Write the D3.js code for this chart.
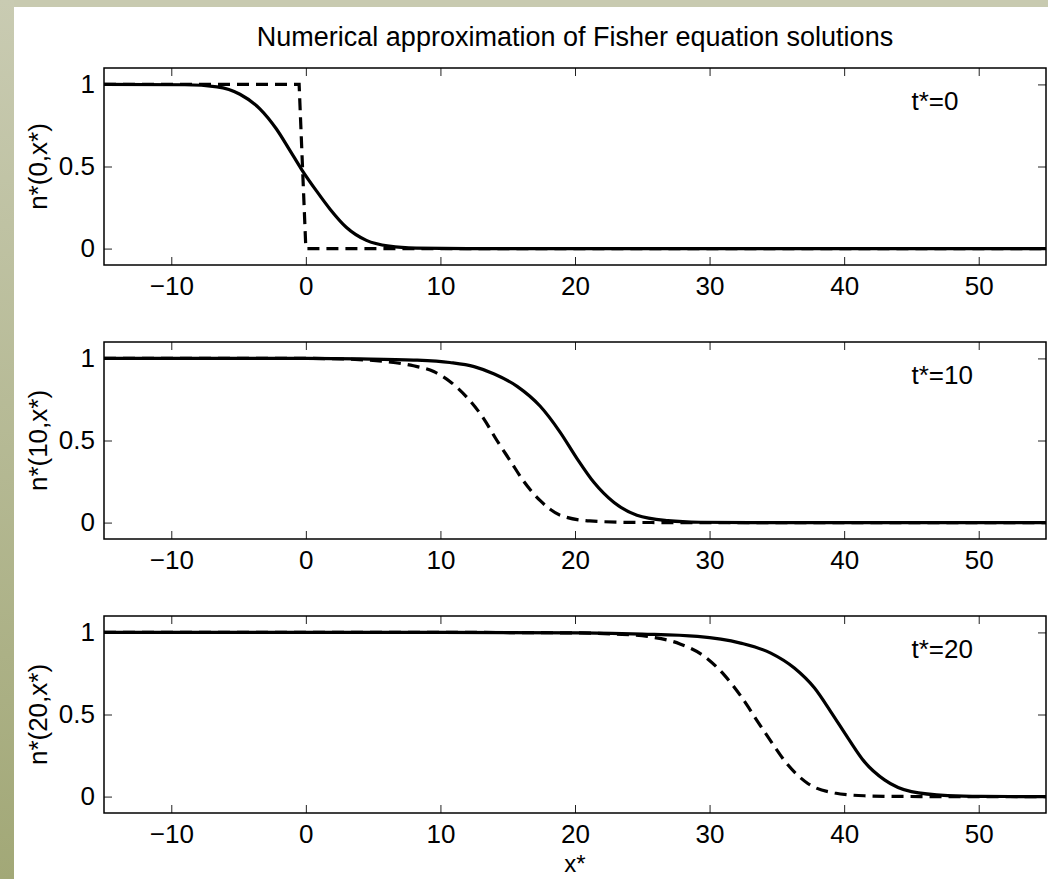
<!DOCTYPE html>
<html>
<head>
	<meta charset="utf-8">
	<title>Fisher equation solutions</title>
	<style>
		body { margin: 0; background: #fff; }
		svg { display: block; }
		.axis text {
			font-family: "Liberation Sans", Arial, sans-serif;
			font-size: 26px;
			fill: #000;
		}
		.axis line { stroke: #222; stroke-width: 1; }
		.axis path { display: none; }
		.label {
			font-family: "Liberation Sans", Arial, sans-serif;
			font-size: 26px;
			fill: #000;
		}
	</style>
</head>
<body>
	<div id="my_dataviz"></div>
<script src="https://d3js.org/d3.v7.min.js"></script>
<script>
	// Tick values and labels
	var xTicks = [-10, 0, 10, 20, 30, 40, 50];
	var yTicks = [0, 0.5, 1];
	var timeLabels = ["t*=0", "t*=10", "t*=20"];
	var yLabels = ["n*(0,x*)", "n*(10,x*)", "n*(20,x*)"];

	// t*=0 : numerical solution (solid) and initial step (dashed)
	var solidT0 = [[-15, 1], [-9, 0.998], [-6.6, 0.985], [-4.9, 0.94], [-3.4, 0.85], [-2.2, 0.73],
		[-1.2, 0.6], [-0.3, 0.48], [0.8, 0.35], [1.8, 0.24], [3.0, 0.13], [4.5, 0.05],
		[6.2, 0.015], [8.2, 0.003], [12, 0], [55, 0]];
	var dashT0 = [[-15, 1], [-0.5, 1], [0, 0], [55, 0]];

	// t*=10
	var solidT10 = [[-15, 1], [0, 1], [4, 0.997], [8, 0.99], [10.7, 0.975], [12.5, 0.95], [14, 0.905],
		[15.7, 0.83], [17.4, 0.71], [18.9, 0.55], [20.15, 0.39], [21.4, 0.245], [22.9, 0.122],
		[24.6, 0.045], [26.9, 0.012], [29.3, 0.002], [33, 0], [55, 0]];
	var dashT10 = [[-15, 1], [0, 1], [3.3, 0.995], [6, 0.98], [8, 0.955], [9.5, 0.92], [10.7, 0.86],
		[12, 0.76], [13.2, 0.635], [14.2, 0.5], [15.2, 0.375], [16.2, 0.25], [17.4, 0.135],
		[18.9, 0.045], [21.1, 0.01], [24.3, 0.001], [28, 0], [55, 0]];

	// t*=20
	var solidT20 = [[-15, 1], [10, 1], [20.4, 0.997], [25, 0.99], [29.1, 0.976], [32.3, 0.935], [34.55, 0.874],
		[36.3, 0.783], [37.8, 0.661], [39.0, 0.518], [40.3, 0.355], [41.5, 0.213], [43.0, 0.102],
		[45.0, 0.03], [47.7, 0.006], [50.2, 0.001], [55, 0]];
	var dashT20 = [[-15, 1], [10, 1], [20, 0.997], [23, 0.99], [25.4, 0.975], [27.8, 0.93], [29.6, 0.855],
		[31.1, 0.74], [32.3, 0.615], [33.55, 0.46], [34.7, 0.32], [35.8, 0.195], [37.3, 0.08],
		[39.3, 0.022], [41.5, 0.005], [44, 0.001], [48, 0], [55, 0]];

	var solids = [solidT0, solidT10, solidT20];
	var dashes = [dashT0, dashT10, dashT20];

	var W = 1048, H = 879;
	var left = 104, right = 1046, panelH = 197;
	var panelTops = [68, 342, 616];

	var svg = d3.select("#my_dataviz")
		.append("svg")
			.attr("width", W)
			.attr("height", H);

	// slide-style background frame
	var grad = svg.append("defs").append("linearGradient")
		.attr("id", "band").attr("x1", 0).attr("y1", 0).attr("x2", 0).attr("y2", 1);
	grad.append("stop").attr("offset", "0%").attr("stop-color", "#c9cbb2");
	grad.append("stop").attr("offset", "100%").attr("stop-color", "#a2a877");
	svg.append("rect").attr("x", 0).attr("y", 0).attr("width", W).attr("height", 7).attr("fill", "#c8cab0");
	svg.append("rect").attr("x", 0).attr("y", 0).attr("width", 14).attr("height", H).attr("fill", "url(#band)");

	var x = d3.scaleLinear().domain([-15, 55]).range([left, right]);

	svg.append("text")
		.attr("class", "label")
		.style("font-size", "27px")
		.attr("x", (left + right) / 2)
		.attr("y", 46)
		.attr("text-anchor", "middle")
		.text("Numerical approximation of Fisher equation solutions");

	panelTops.forEach(function(top, i) {
		var y = d3.scaleLinear().domain([-0.1, 1.1]).range([top + panelH, top]);
		var g = svg.append("g");

		g.append("clipPath").attr("id", "clip" + i)
			.append("rect").attr("x", left).attr("y", top).attr("width", right - left).attr("height", panelH);

		// ticks on all four sides, pointing inward
		g.append("g").attr("class", "axis")
			.attr("transform", "translate(0," + (top + panelH) + ")")
			.call(d3.axisBottom(x).tickValues(xTicks).tickSize(-8).tickPadding(12)
				.tickFormat(function(d) { return d < 0 ? "\u2212" + Math.abs(d) : d; }))
			.selectAll("text").attr("dy", "0.71em");
		g.append("g").attr("class", "axis")
			.attr("transform", "translate(0," + top + ")")
			.call(d3.axisTop(x).tickValues(xTicks).tickSize(-8).tickFormat(""));
		g.append("g").attr("class", "axis")
			.attr("transform", "translate(" + left + ",0)")
			.call(d3.axisLeft(y).tickValues(yTicks).tickSize(-8).tickPadding(9)
				.tickFormat(function(d) { return d; }));
		g.append("g").attr("class", "axis")
			.attr("transform", "translate(" + right + ",0)")
			.call(d3.axisRight(y).tickValues(yTicks).tickSize(-8).tickFormat(""));

		var line = d3.line()
			.x(function(d) { return x(d[0]); })
			.y(function(d) { return y(d[1]); })
			.curve(d3.curveMonotoneX);

		var dashLine = d3.line()
			.x(function(d) { return x(d[0]); })
			.y(function(d) { return y(d[1]); })
			.curve(i === 0 ? d3.curveLinear : d3.curveMonotoneX);

		g.append("path")
			.datum(dashes[i])
			.attr("clip-path", "url(#clip" + i + ")")
			.attr("fill", "none")
			.attr("stroke", "#000")
			.attr("stroke-width", 3.2)
			.attr("stroke-dasharray", "12,7")
			.attr("d", dashLine);

		g.append("path")
			.datum(solids[i])
			.attr("clip-path", "url(#clip" + i + ")")
			.attr("fill", "none")
			.attr("stroke", "#000")
			.attr("stroke-width", 3.2)
			.attr("d", line);

		// axes box
		g.append("rect")
			.attr("x", left).attr("y", top)
			.attr("width", right - left).attr("height", panelH)
			.attr("fill", "none").attr("stroke", "#000").attr("stroke-width", 1.5);

		g.append("text")
			.attr("class", "label")
			.attr("x", x(45))
			.attr("y", y(0.9))
			.attr("dy", "0.35em")
			.text(timeLabels[i]);

		g.append("text")
			.attr("class", "label")
			.attr("transform", "translate(47," + (top + panelH / 2) + ")rotate(-90)")
			.attr("text-anchor", "middle")
			.text(yLabels[i]);
	});

	svg.append("text")
		.attr("class", "label")
		.style("font-size", "24px")
		.attr("x", (left + right) / 2)
		.attr("y", 872)
		.attr("text-anchor", "middle")
		.text("x*");
</script>
</body>
</html>
